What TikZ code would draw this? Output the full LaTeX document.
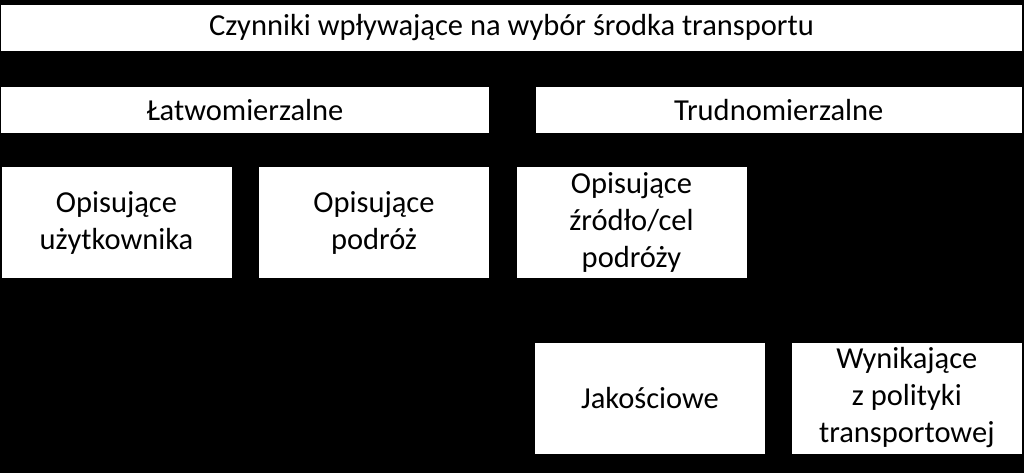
\documentclass[tikz,border=0pt]{standalone}
\usepackage{fontspec}
\setmainfont{Carlito}
\usepackage{tikz}
\usetikzlibrary{positioning}

\tikzset{box/.style={fill=white, text=black, inner sep=0pt, align=center, font=\fontsize{30.5}{37}\selectfont},
wide/.style={box, minimum height=46},
small/.style={box, minimum width=230, minimum height=111}}

\begin{document}
\begin{tikzpicture}[x=1pt,y=-1pt]

\fill [black] (0,0) rectangle (1024,473);

\node at (511.5,28) [wide, minimum width=1021] (czynniki) {Czynniki wpływające na wybór środka transportu};

\node at (245,110) [wide, minimum width=488] (latwo) {Łatwomierzalne};
\node at (778.75,110) [wide, minimum width=486.5] (trudno) {Trudnomierzalne};

\node at (116.5,222.5) [small] (uzytkownik) {Opisujące\\ użytkownika};
\node at (374,222.5) [small] (podroz) {Opisujące\\ podróż};
\node at (631.5,222.5) [small] (zrodlo) {Opisujące\\ źródło/cel\\ podróży};

\node at (650,398) [small] (jakosc) {Jakościowe};
\node at (906.8,398) [small] (polityka) {Wynikające\\ z polityki\\ transportowej};

\end{tikzpicture}
\end{document}
